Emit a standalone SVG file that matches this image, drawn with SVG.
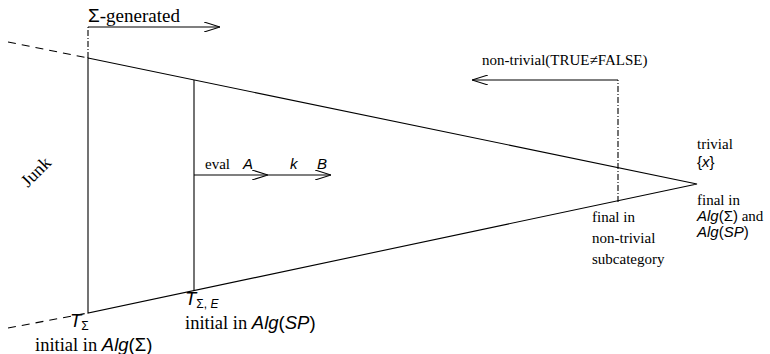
<svg xmlns="http://www.w3.org/2000/svg" width="770" height="354" viewBox="0 0 770 354">
  <style>
    .ln { stroke: #000; stroke-width: 1.1; fill: none; }
    .dash { stroke: #000; stroke-width: 1.1; fill: none; stroke-dasharray: 8 6; }
    .dashdot { stroke: #000; stroke-width: 1.1; fill: none; stroke-dasharray: 6 2 1 2; }
    .arr { stroke: #000; stroke-width: 1.1; fill: none; marker-end: url(#open); }
    text { font-size: 15px; fill: #000; }
    .big { font-size: 18.5px; }
    .sub { font-size: 12px; }
  </style>
  <defs>
    <marker id="open" viewBox="0 0 16 10" refX="16" refY="5" markerWidth="16" markerHeight="10" markerUnits="userSpaceOnUse" orient="auto">
      <path d="M0,0 L16,5 L0,10" fill="none" stroke="#000" stroke-width="1.1"/>
    </marker>
  </defs>

  <!-- triangle of algebras -->
  <g id="triangle">
    <path class="ln" d="M88,58 L697,184 L88,313 Z"/>
    <line class="ln" x1="194" y1="80" x2="194" y2="291"/>
    <line class="dash" x1="8" y1="42" x2="88" y2="58"/>
    <line class="dash" x1="8" y1="328" x2="88" y2="313"/>
  </g>

  <!-- arrows -->
  <g id="connectors">
    <line class="dashdot" x1="88" y1="58" x2="88" y2="27"/>
    <line class="arr" x1="88" y1="27" x2="220" y2="27"/>
    <line class="dashdot" x1="618" y1="202" x2="618" y2="80"/>
    <line class="arr" x1="618" y1="80" x2="472" y2="80"/>
    <line class="arr" x1="194" y1="175" x2="268" y2="175"/>
    <line class="arr" x1="268" y1="175" x2="331" y2="175"/>
  </g>

  <!-- labels: roman text in a Times-like serif, math in an Helvetica-like sans -->
  <g font-family="Liberation Serif, Times New Roman, Tinos, Nimbus Roman, Noto Serif, DejaVu Serif, serif">
    <g id="sigma-generated">
      <text x="88" y="22" style="font-size:19px"><tspan font-family="Liberation Sans, Arial, sans-serif">Σ</tspan>-generated</text>
    </g>

    <g id="non-trivial">
      <text x="482" y="65">non-trivial(TRUE≠FALSE)</text>
    </g>

    <g id="junk">
      <text x="40" y="176" text-anchor="middle" transform="rotate(-45 40 176)" style="font-size:18px">Junk</text>
    </g>

    <g id="eval">
      <text x="205" y="169">eval</text>
      <text x="243" y="169" font-family="Liberation Sans, Arial, sans-serif" font-style="italic">A</text>
      <text x="290" y="169" font-family="Liberation Sans, Arial, sans-serif" font-style="italic">k</text>
      <text x="317" y="169" font-family="Liberation Sans, Arial, sans-serif" font-style="italic">B</text>
    </g>

    <g id="t-sigma">
      <text x="70" y="327" class="big" font-family="Liberation Sans, Arial, sans-serif" font-style="italic">T<tspan class="sub" font-style="normal" dy="3">Σ</tspan></text>
      <text x="35" y="351" class="big">initial in <tspan font-family="Liberation Sans, Arial, sans-serif" font-style="italic">Alg</tspan><tspan font-family="Liberation Sans, Arial, sans-serif">(Σ)</tspan></text>
    </g>

    <g id="t-sigma-e">
      <text x="185" y="305" class="big" font-family="Liberation Sans, Arial, sans-serif" font-style="italic">T<tspan class="sub" font-style="normal" dy="3">Σ,</tspan><tspan class="sub"> E</tspan></text>
      <text x="185" y="329" class="big">initial in <tspan font-family="Liberation Sans, Arial, sans-serif" font-style="italic">Alg</tspan><tspan font-family="Liberation Sans, Arial, sans-serif">(</tspan><tspan font-family="Liberation Sans, Arial, sans-serif" font-style="italic">SP</tspan><tspan font-family="Liberation Sans, Arial, sans-serif">)</tspan></text>
    </g>

    <g id="final-nontrivial">
      <text x="592" y="222">final in</text>
      <text x="592" y="243">non-trivial</text>
      <text x="592" y="264">subcategory</text>
    </g>

    <g id="trivial">
      <text x="697" y="149">trivial</text>
      <text x="697" y="167" font-family="Liberation Sans, Arial, sans-serif">{<tspan font-style="italic">x</tspan>}</text>
      <text x="697" y="205">final in</text>
      <text x="697" y="221"><tspan font-family="Liberation Sans, Arial, sans-serif" font-style="italic">Alg</tspan><tspan font-family="Liberation Sans, Arial, sans-serif">(Σ)</tspan> and</text>
      <text x="697" y="237" font-family="Liberation Sans, Arial, sans-serif"><tspan font-style="italic">Alg</tspan>(<tspan font-style="italic">SP</tspan>)</text>
    </g>
  </g>
</svg>
